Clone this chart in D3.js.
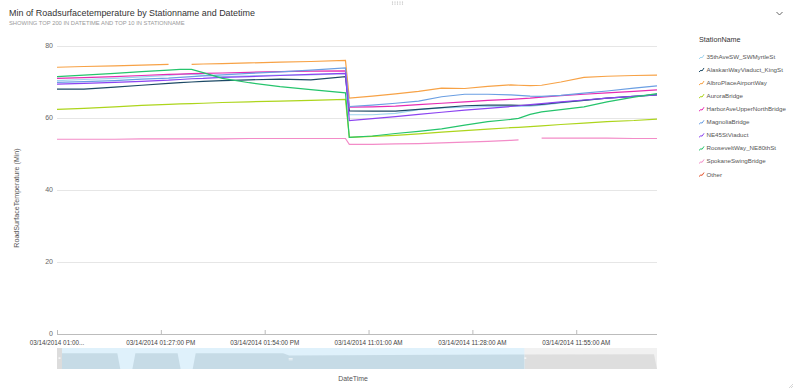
<!DOCTYPE html>
<html>
<head>
<meta charset="utf-8">
<script src="https://cdn.jsdelivr.net/npm/d3@7"></script>
<style>
  body { margin: 0; background: #fff; }
  svg { font-family: "Liberation Sans", Arial, sans-serif; }
</style>
</head>
<body>
<svg id="chart" width="796" height="390"></svg>
<script>
// sample positions (row number among the DateTime categories)
var rows = [0, 7, 15, 22, 29, 32, 35, 38, 43, 50, 58, 66, 75, 76, 82, 88, 94, 100, 106, 112, 118, 120, 123, 126, 131, 137, 143, 150, 156]

var stations = ["35thAveSW_SWMyrtleSt", "AlaskanWayViaduct_KingSt", "AlbroPlaceAirportWay", "AuroraBridge",
  "HarborAveUpperNorthBridge", "MagnoliaBridge", "NE45StViaduct", "RooseveltWay_NE80thSt", "SpokaneSwingBridge", "Other"]
var colors = ["#9fd4ef", "#1d4a66", "#f7a246", "#add51c", "#e62cb3", "#6b9fe3", "#8c44f1", "#25c46c", "#f38cc8", "#e5532b"]

var s35thAve   = [70.4, 70.7, 71.0, 71.4, 71.8, 72.1, 72.2, 71.9, 71.5, 71.7, 71.9, 72.0, 72.3, 60.9, 60.9, 61.3, 62.3, 62.8, 63.0, 63.2, 63.2, 63.2, 63.3, 63.6, 64.2, 64.9, 65.5, 66.1, 66.6]
var sAlaskan   = [68.0, 68.0, 68.6, 69.1, 69.6, 69.8, 70.0, 70.2, 70.4, 70.6, 70.8, 70.6, 71.5, 62.0, 61.9, 61.9, 62.4, 62.9, 63.4, 63.6, 63.6, 63.5, 63.6, 63.8, 64.3, 64.9, 65.5, 66.0, 66.4]
var sAlbro     = [74.1, 74.3, 74.5, 74.7, 74.9, null, 74.9, 75.0, 75.1, 75.3, 75.5, 75.7, 76.0, 65.5, 66.1, 66.7, 67.4, 68.3, 68.2, 68.8, 69.2, 69.1, 69.0, 69.1, 70.0, 71.3, 71.6, 71.8, 71.9]
var sAurora    = [62.4, 62.7, 63.1, 63.5, 63.8, 63.9, 64.0, 64.1, 64.3, 64.5, 64.7, 64.9, 65.2, 54.6, 54.9, 55.2, 55.6, 56.1, 56.5, 56.9, 57.3, 57.4, 57.6, 57.8, 58.2, 58.6, 59.0, 59.3, 59.7]
var sHarbor    = [71.0, 71.2, 71.5, 71.8, 72.1, 72.2, 72.3, 72.4, 72.5, 72.7, 72.9, 73.0, 73.1, 63.0, 63.1, 63.3, 63.7, 64.1, 64.5, 64.9, 65.2, 65.3, 65.5, 65.8, 66.2, 66.6, 67.0, 67.4, 67.8]
var sMagnolia  = [69.9, 70.1, 70.4, 70.8, 71.1, 71.3, 71.5, 71.7, 72.0, 72.4, 72.8, 73.3, 73.9, 63.2, 63.6, 64.1, 64.7, 65.9, 66.6, 66.6, 66.4, 66.3, 66.1, 66.0, 66.3, 66.9, 67.5, 68.3, 68.9]
var sNE45      = [69.4, 69.6, 69.9, 70.2, 70.5, 70.7, 70.9, 71.0, 71.3, 71.5, 71.8, 72.1, 72.4, 59.3, 59.8, 60.4, 61.0, 61.6, 62.2, 62.7, 63.2, 63.4, 63.7, 64.0, 64.5, 65.0, 65.5, 66.0, 66.4]
var sRoosevelt = [71.5, 71.9, 72.4, 72.9, 73.3, 73.5, 73.5, 72.6, 71.0, 69.8, 68.7, 67.9, 67.0, 54.6, 55.0, 55.7, 56.3, 57.0, 58.0, 59.0, 59.6, 59.9, 61.0, 61.7, 62.3, 63.1, 64.5, 65.8, 66.8]
var sSpokane   = [54.1, 54.1, 54.1, 54.2, 54.2, 54.2, 54.2, 54.2, 54.2, 54.3, 54.3, 54.3, 54.3, 52.7, 52.7, 52.8, 52.9, 53.1, 53.3, 53.5, 53.8, 53.9, null, 54.4, 54.4, 54.4, 54.4, 54.3, 54.3]
var seriesValues = [s35thAve, sAlaskan, sAlbro, sAurora, sHarbor, sMagnolia, sNE45, sRoosevelt, sSpokane]

var tickRows = [0, 27, 54, 81, 108, 135]
var tickLabels = ["03/14/2014 01:00...", "03/14/2014 01:27:00 PM", "03/14/2014 01:54:00 PM",
  "03/14/2014 11:01:00 AM", "03/14/2014 11:28:00 AM", "03/14/2014 11:55:00 AM"]
var yTicks = [0, 20, 40, 60, 80]

// overview strip under the axis (all 200 rows)
var overviewRows = [0, 20, 21, 25, 26, 40, 41, 45, 46, 75, 77, 110, 150, 198, 199]
var overviewVals = [75, 75, 0, 0, 75, 75, 0, 0, 75, 75, 64, 67, 69, 70, 0]
var visibleRows = 155

var svg = d3.select("#chart")
var plotLeft = 57, plotRight = 657, plotTop = 46, plotBottom = 334

var x = d3.scaleLinear().domain([0, 156]).range([plotLeft, plotRight])
var y = d3.scaleLinear().domain([0, 80]).range([plotBottom, plotTop])

// titles
svg.append("text").attr("x", 9).attr("y", 16.3).attr("font-size", 8.95).attr("fill", "#333")
   .text("Min of Roadsurfacetemperature by Stationname and Datetime")
svg.append("text").attr("x", 9).attr("y", 24.8).attr("font-size", 5.8).attr("fill", "#9a9a9a")
   .text("SHOWING TOP 200 IN DATETIME AND TOP 10 IN STATIONNAME")

// grid
svg.append("g").selectAll("line").data(yTicks.filter(function(d) { return d > 0 })).enter()
   .append("line").attr("x1", plotLeft).attr("x2", plotRight)
   .attr("y1", function(d) { return Math.round(y(d)) + 0.5 }).attr("y2", function(d) { return Math.round(y(d)) + 0.5 })
   .style("stroke", "#e6e6e6").style("stroke-width", 1)

svg.append("g").selectAll("text").data(yTicks).enter()
   .append("text").attr("x", 53).attr("y", function(d) { return y(d) + 2.4 })
   .attr("text-anchor", "end").attr("font-size", 7).attr("fill", "#666")
   .text(function(d) { return d })

// x axis
var xAxis = d3.axisTop(x).tickValues(tickRows).tickSize(4).tickFormat("")
var gx = svg.append("g").attr("transform", "translate(0," + plotBottom + ")").call(xAxis)
gx.select(".domain").attr("stroke", "#bcbcbc").attr("d", "M" + plotLeft + ",0.5H" + plotRight)
gx.selectAll(".tick line").attr("stroke", "#bcbcbc")
svg.append("g").selectAll("text").data(tickRows).enter()
   .append("text").attr("x", function(d) { return x(d) }).attr("y", 344.8)
   .attr("text-anchor", "middle").attr("font-size", 6.3).attr("fill", "#444")
   .text(function(d, i) { return tickLabels[i] })

svg.append("text").attr("transform", "translate(19,198) rotate(-90)")
   .attr("text-anchor", "middle").attr("font-size", 7.1).attr("fill", "#555")
   .text("RoadSurfaceTemperature (Min)")
svg.append("text").attr("x", 353).attr("y", 381).attr("text-anchor", "middle")
   .attr("font-size", 6.9).attr("fill", "#555").text("DateTime")

// lines
svg.append("clipPath").attr("id", "plotclip").append("rect")
   .attr("x", plotLeft).attr("y", 0).attr("width", plotRight - plotLeft).attr("height", plotBottom + 1)
var line = d3.line()
   .defined(function(d) { return d != null })
   .x(function(d, i) { return x(rows[i]) })
   .y(function(d) { return y(d) })
svg.append("g").attr("clip-path", "url(#plotclip)").selectAll("path").data(seriesValues).enter()
   .append("path").attr("d", line)
   .style("fill", "none").style("stroke-width", 1.2)
   .style("stroke", function(d, i) { return colors[i] })

// overview / brush strip
var ox = d3.scaleLinear().domain([0, 199]).range([plotLeft, plotRight])
var oy = d3.scaleLinear().domain([0, 100]).range([369, 348])
var selEnd = ox(visibleRows)
var area = d3.area().x(function(d, i) { return ox(overviewRows[i]) }).y0(369).y1(function(d) { return oy(d) })
svg.append("rect").attr("x", plotLeft).attr("y", 348).attr("width", plotRight - plotLeft).attr("height", 21).attr("fill", "#f1f1f1")
svg.append("clipPath").attr("id", "selclip").append("rect")
   .attr("x", plotLeft).attr("y", 340).attr("width", selEnd - plotLeft).attr("height", 40)
svg.append("clipPath").attr("id", "restclip").append("rect")
   .attr("x", selEnd).attr("y", 340).attr("width", plotRight - selEnd).attr("height", 40)
svg.append("path").datum(overviewVals).attr("d", area).attr("fill", "#dedede").attr("clip-path", "url(#restclip)")
svg.append("rect").attr("x", plotLeft).attr("y", 348).attr("width", selEnd - plotLeft).attr("height", 21).attr("fill", "#dff1fb")
svg.append("path").datum(overviewVals).attr("d", area).attr("fill", "#c6dbe6").attr("clip-path", "url(#selclip)")
svg.append("rect").attr("x", plotLeft).attr("y", 348).attr("width", 5).attr("height", 21).attr("fill", "#dcdcdc")
svg.append("rect").attr("x", 58.5).attr("y", 357.5).attr("width", 2).attr("height", 1.2).attr("fill", "#fff")
svg.append("rect").attr("x", selEnd).attr("y", 357.5).attr("width", 2).attr("height", 1.2).attr("fill", "#fff")
var mid = (plotLeft + selEnd) / 2
svg.append("rect").attr("x", mid - 2).attr("y", 358).attr("width", 4).attr("height", 0.6).attr("fill", "#fff")
svg.append("rect").attr("x", mid - 2).attr("y", 359.6).attr("width", 4).attr("height", 0.6).attr("fill", "#fff")

// legend
svg.append("text").attr("x", 699).attr("y", 42).attr("font-size", 7.2).attr("fill", "#333").text("StationName")
var lg = svg.append("g").selectAll("g").data(stations).enter().append("g")
   .attr("transform", function(d, i) { return "translate(699," + (56.7 + i * 13.07) + ")" })
lg.append("path").attr("d", "M0,2.2L2,0.4L3,1.2L5,-1.8")
   .style("fill", "none").style("stroke-width", 1)
   .style("stroke", function(d, i) { return colors[i] })
lg.append("text").attr("x", 7.5).attr("y", 2.2).attr("font-size", 6.2).attr("fill", "#555")
   .text(function(d) { return d })

// chrome bits
svg.append("path").attr("d", "M776.5,12L779.5,15L782.5,12").style("fill", "none").style("stroke", "#666").style("stroke-width", 1)
svg.append("g").selectAll("circle").data([0, 1, 2, 3, 4]).enter().append("circle")
   .attr("cx", function(d) { return 392.5 + d * 2.5 }).attr("cy", 2).attr("r", 0.6).attr("fill", "#aaa")
svg.append("g").selectAll("circle").data([0, 1, 2, 3, 4]).enter().append("circle")
   .attr("cx", function(d) { return 392.5 + d * 2.5 }).attr("cy", 4).attr("r", 0.6).attr("fill", "#aaa")
svg.append("path").attr("d", "M789,388L793,384M791,388L793,386").style("stroke", "#bbb").style("stroke-width", 0.6)
</script>
</body>
</html>
